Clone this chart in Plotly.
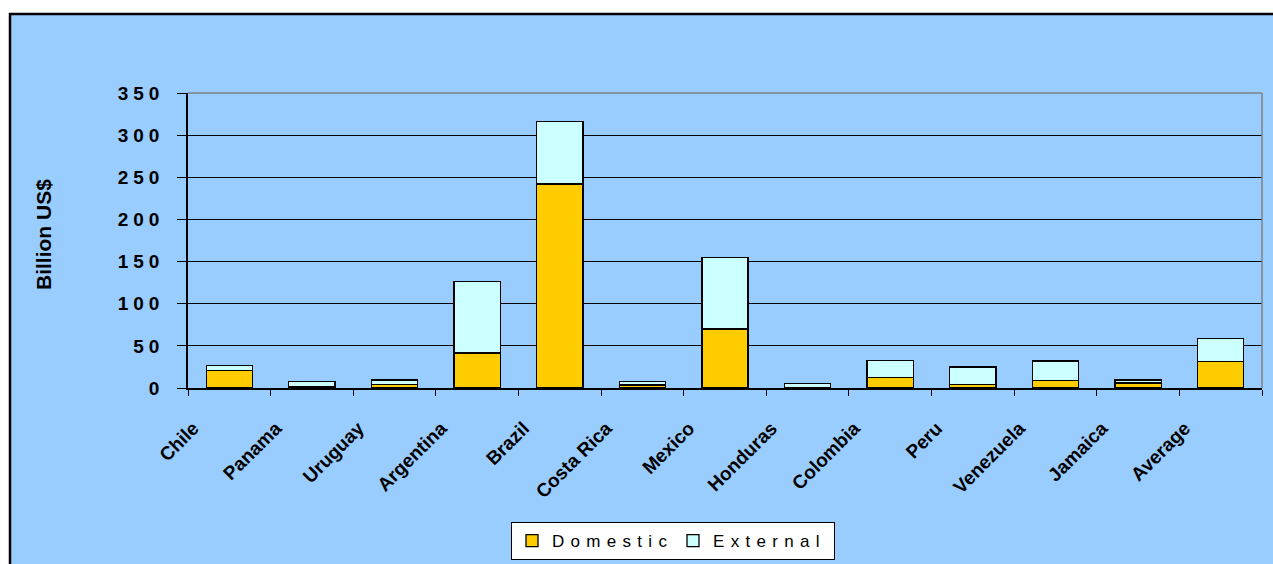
import plotly.graph_objects as go

categories = ["Chile", "Panama", "Uruguay", "Argentina", "Brazil", "Costa Rica", "Mexico",
              "Honduras", "Colombia", "Peru", "Venezuela", "Jamaica", "Average"]
domestic = [20.5, 1.5, 4, 41.5, 242, 3.5, 70, 0.5, 12.6, 4, 9, 6, 31.5]
external = [6, 6, 5.5, 85, 74.5, 4.3, 85, 5, 19.7, 21, 23, 3.5, 27.3]
y_ticks = [0, 50, 100, 150, 200, 250, 300, 350]

W, H = 1273, 564
L, R, T, B = 188, 11, 93, 176
PW, PH = W - L - R, H - T - B
FONT = "Arial, Liberation Sans, sans-serif"


def px(x):
    return (x - L) / PW


def py(y):
    return (T + PH - y) / PH


fig = go.Figure()
fig.add_trace(go.Bar(x=categories, y=domestic, name="Domestic",
                     marker=dict(color="#FFCC00", line=dict(color="#000000", width=1.3))))
fig.add_trace(go.Bar(x=categories, y=external, name="External",
                     marker=dict(color="#CCFFFF", line=dict(color="#000000", width=1.3))))

shapes = [
    dict(type="rect", xref="paper", yref="paper", x0=px(-5), x1=px(9), y0=py(H + 10), y1=py(-10),
         fillcolor="white", line=dict(width=0), layer="below"),
    dict(type="rect", xref="paper", yref="paper", x0=px(-5), x1=px(W + 10), y0=py(13), y1=py(-10),
         fillcolor="white", line=dict(width=0), layer="below"),
    dict(type="line", xref="paper", yref="paper", x0=px(10), x1=px(10), y0=py(H + 10), y1=py(13),
         line=dict(color="black", width=2.5)),
    dict(type="line", xref="paper", yref="paper", x0=px(9), x1=px(W + 10), y0=py(14), y1=py(14),
         line=dict(color="black", width=2.5)),
    dict(type="line", xref="paper", yref="paper", x0=0, x1=1, y0=1, y1=1,
         line=dict(color="#808080", width=1.5)),
    dict(type="line", xref="paper", yref="paper", x0=1, x1=1, y0=0, y1=1,
         line=dict(color="#808080", width=1.5)),
]

fig.update_layout(
    width=W, height=H,
    margin=dict(l=L, r=R, t=T, b=B, autoexpand=False),
    barmode="stack", bargap=0.44,
    paper_bgcolor="#99CCFF", plot_bgcolor="#99CCFF",
    font=dict(family=FONT, color="black"),
    showlegend=True,
    legend=dict(orientation="h", x=px(673), xanchor="center", y=py(522), yanchor="top",
                bgcolor="white", bordercolor="black", borderwidth=1,
                font=dict(family=FONT, size=17, color="black"),
                traceorder="normal", itemwidth=30,
                entrywidthmode="pixels", entrywidth=116),
    xaxis=dict(type="category", showgrid=False, showline=True, linecolor="black", linewidth=1.5,
               ticks="outside", ticklen=6, tickcolor="black", tickwidth=1.2, tickson="boundaries",
               tickangle=-45, tickfont=dict(family=FONT, size=19, color="black", weight="bold"),
               automargin=False, ticklabelshift=-36, ticklabelstandoff=20),
    yaxis=dict(range=[0, 350], tickvals=y_ticks, showgrid=True, gridcolor="black", gridwidth=1,
               zeroline=False, showline=True, linecolor="black", linewidth=1.5,
               ticks="outside", ticklen=9, tickcolor="black", tickwidth=1.2,
               tickfont=dict(family=FONT, size=19, color="black", weight="bold"),
               automargin=False, ticklabelstandoff=9),
    shapes=shapes,
    annotations=[dict(text="Billion US$", xref="paper", yref="paper", x=px(43), y=py(235),
                      xanchor="center", yanchor="middle", textangle=-90, showarrow=False,
                      font=dict(family=FONT, size=21, color="black", weight="bold"))],
)

post = """
document.documentElement.style.margin='0';
document.body.style.margin='0';
document.body.style.padding='0';
var s=document.createElement('style');
s.textContent='.ytick text{letter-spacing:5px}.legendtext{letter-spacing:6.3px}';
document.head.appendChild(s);
"""

fig.write_html("out.html", post_script=post, config={"displayModeBar": False})
